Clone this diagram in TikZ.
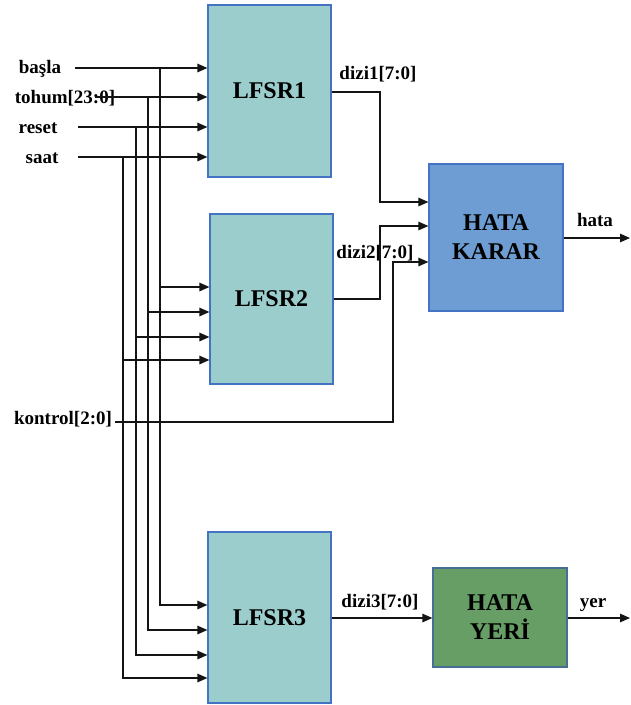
\documentclass[tikz,border=0pt]{standalone}
\usepackage{fontspec}
\setmainfont{Liberation Serif}
\usetikzlibrary{arrows.meta}
\definecolor{lfsrfill}{RGB}{155,205,205}
\definecolor{boxline}{RGB}{68,114,196}
\definecolor{kararfill}{RGB}{110,157,211}
\definecolor{yerifill}{RGB}{102,158,102}
\definecolor{yeriline}{RGB}{70,110,150}
\definecolor{wire}{RGB}{20,20,20}
\tikzset{
  blk/.style={draw=boxline, line width=1.2pt, inner sep=0pt, font=\bfseries\fontsize{24}{29}\selectfont, align=center},
  lfsr/.style={blk, fill=lfsrfill, minimum width=123pt},
  sig/.style={font=\bfseries\fontsize{19}{21}\selectfont, inner sep=0pt, anchor=base},
  wr/.style={draw=wire, line width=1.3pt},
  arr/.style={wr, -{Triangle[length=10pt,width=8.5pt]}}
}
\begin{document}
\begin{tikzpicture}[x=1pt,y=-1pt]
\useasboundingbox (0,0) rectangle (630,705);
% blocks
\node[lfsr, minimum height=172pt] (L1) at (269.5,91) {LFSR1};
\node[lfsr, minimum height=170pt] (L2) at (271.5,299) {LFSR2};
\node[lfsr, minimum height=171pt] (L3) at (269.5,617.5) {LFSR3};
\node[blk, fill=kararfill, minimum width=134pt, minimum height=147pt] (K) at (496,237.5) {HATA\\KARAR};
\node[blk, fill=yerifill, draw=yeriline, minimum width=134pt, minimum height=99pt] (Y) at (500,617.5) {HATA\\YERİ};
% input labels
\node[sig] (basla) at (40,73) {başla};
\node[sig] (tohum) at (65,103) {tohum[23:0]};
\node[sig] (reset) at (38,133) {reset};
\node[sig] (saat) at (42,163) {saat};
\node[sig] (kontrol) at (63,424) {kontrol[2:0]};
% output labels
\node[sig] (d1) at (378,79) {dizi1[7:0]};
\node[sig] (d2) at (375,258) {dizi2[7:0]};
\node[sig] (d3) at (380,607) {dizi3[7:0]};
\node[sig] (hata) at (595,226) {hata};
\node[sig] (yer) at (593,607) {yer};
% wire start points
\coordinate (sb) at (75,68);
\coordinate (st) at (95,97);
\coordinate (sr) at (78,127);
\coordinate (ss) at (78,157);
\coordinate (vb) at (160,68);
\coordinate (vt) at (148,97);
\coordinate (vr) at (136,127);
\coordinate (vs) at (123,157);
\coordinate (sk) at (115,422);
\coordinate (kv) at (393,262);
\coordinate (hend) at (630,238);
\coordinate (yend) at (630,618);
% inputs to LFSR1
\draw[arr] (sb) -- (sb -| L1.west);
\draw[arr] (st) -- (st -| L1.west);
\draw[arr] (sr) -- (sr -| L1.west);
\draw[arr] (ss) -- (ss -| L1.west);
% branches to LFSR2
\draw[arr] (vb) |- (L2.west |- 0,287);
\draw[arr] (vt) |- (L2.west |- 0,312);
\draw[arr] (vr) |- (L2.west |- 0,337);
\draw[arr] (vs) |- (L2.west |- 0,360);
% branches to LFSR3
\draw[arr] (vb) |- (L3.west |- 0,605);
\draw[arr] (vt) |- (L3.west |- 0,630);
\draw[arr] (vr) |- (L3.west |- 0,655);
\draw[arr] (vs) |- (L3.west |- 0,678);
% outputs
\draw[arr] (L1.east |- 0,92) -| (380,202) -- (K.west |- 0,202);
\draw[arr] (L2.east |- 0,299) -| (380,226) -- (K.west |- 0,226);
\draw[arr] (sk) -| (kv) -- (K.west |- kv);
\draw[arr] (K.east |- hend) -- (hend);
\draw[arr] (L3.east |- 0,618) -- (Y.west |- 0,618);
\draw[arr] (Y.east |- yend) -- (yend);
\end{tikzpicture}
\end{document}
